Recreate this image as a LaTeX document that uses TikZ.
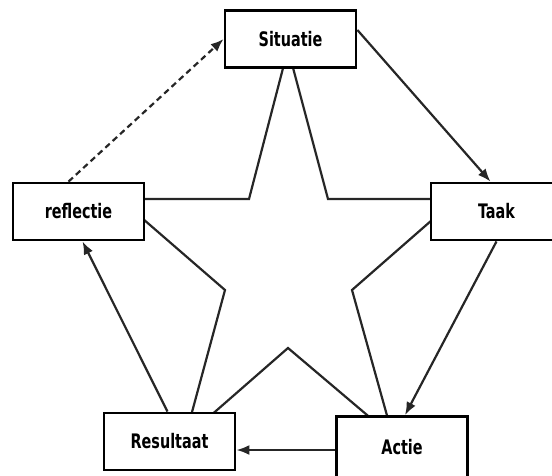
\documentclass[tikz,border=0pt]{standalone}
\usepackage{fontspec}
\newfontfamily\boxfont[FakeStretch=0.8]{DejaVu Sans Condensed}
\usetikzlibrary{arrows.meta}

\begin{document}
\begin{tikzpicture}[x=1pt, y=-1pt, >={Latex[length=13pt,width=10pt]}]
  \tikzstyle{box}=[draw, line width=2.8pt, fill=white, minimum width=131pt, minimum height=57pt, inner sep=0pt, font=\boxfont\bfseries\fontsize{20}{24}\selectfont]
  \tikzstyle{link}=[line width=2.2pt, draw=black!85]
  \clip (0,0) rectangle (552,475);

  % star, the boxes cover its points
  \coordinate (p1) at (288,49);
  \coordinate (q1) at (328,199);
  \coordinate (p2) at (456,199);
  \coordinate (q2) at (352,290);
  \coordinate (p3) at (393,437);
  \coordinate (q3) at (288,348);
  \coordinate (p4) at (185,438);
  \coordinate (q4) at (225,290);
  \coordinate (p5) at (120,199);
  \coordinate (q5) at (249,199);
  \draw[link] (p1) -- (q1) -- (p2) -- (q2) -- (p3) -- (q3) -- (p4) -- (q4) -- (p5) -- (q5) -- cycle;

  \node[box] (sit)   at (290.5,39)    {Situatie};
  \node[box] (taak)  at (496.5,211.5) {Taak};
  \node[box, minimum height=61pt] (actie) at (402,447) {Actie};
  \node[box] (res)   at (169.5,441.5) {Resultaat};
  \node[box] (refl)  at (78.5,211.5)  {reflectie};

  \draw[link,->] ([yshift=9]sit.east) -- ([xshift=-6]taak.north);
  \draw[link,->] (taak.south) -- ([xshift=3]actie.north);
  \draw[link,->] ([yshift=-3]actie.west) -- ([yshift=-3]actie.west -| res.east);
  \draw[link,->] ([xshift=-2]res.north) -- ([xshift=4]refl.south);
  \draw[link,->,dash pattern=on 6pt off 4pt] ([xshift=-10]refl.north) -- (sit.west);
\end{tikzpicture}
\end{document}
